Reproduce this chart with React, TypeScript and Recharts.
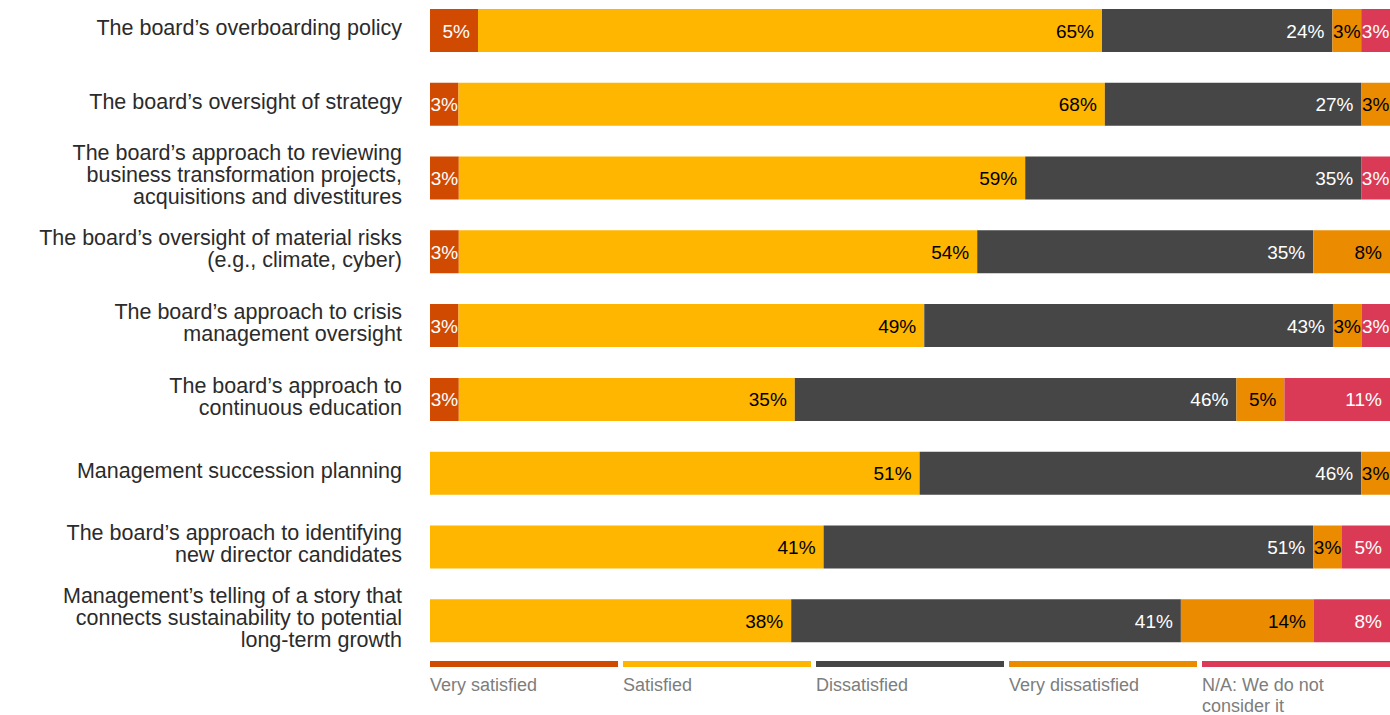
import { BarChart, Bar, XAxis, YAxis, LabelList } from "recharts"

const categories = [
  "The board’s overboarding policy",
  "The board’s oversight of strategy",
  "The board’s approach to reviewing\nbusiness transformation projects,\nacquisitions and divestitures",
  "The board’s oversight of material risks\n(e.g., climate, cyber)",
  "The board’s approach to crisis\nmanagement oversight",
  "The board’s approach to\ncontinuous education",
  "Management succession planning",
  "The board’s approach to identifying\nnew director candidates",
  "Management’s telling of a story that\nconnects sustainability to potential\nlong-term growth",
]

const verySatisfied = [5, 3, 3, 3, 3, 3, 0, 0, 0]
const satisfied = [65, 68, 59, 54, 49, 35, 51, 41, 38]
const dissatisfied = [24, 27, 35, 35, 43, 46, 46, 51, 41]
const veryDissatisfied = [3, 3, 0, 8, 3, 5, 3, 3, 14]
const notConsidered = [3, 0, 3, 0, 3, 11, 0, 5, 8]

const series = [
  { key: "vs", name: "Very satisfied", values: verySatisfied, color: "#D04A02", text: "#fff" },
  { key: "s", name: "Satisfied", values: satisfied, color: "#FFB600", text: "#000" },
  { key: "d", name: "Dissatisfied", values: dissatisfied, color: "#464646", text: "#fff" },
  { key: "vd", name: "Very dissatisfied", values: veryDissatisfied, color: "#EB8C00", text: "#000" },
  { key: "na", name: "N/A: We do not consider it", values: notConsidered, color: "#DB3A56", text: "#fff" },
]

const data = categories.map((name, i) => {
  const row: any = { name }
  series.forEach((s) => (row[s.key] = s.values[i]))
  return row
})

const FONT = "'Liberation Sans', Arial, Helvetica, sans-serif"

const CategoryTick = ({ x, y, payload }: any) => {
  const lines = String(payload.value).split("\n")
  const n = lines.length
  return (
    <text x={x} y={y} textAnchor="end" fill="#2b2b2b" fontSize={21.5} fontFamily={FONT}>
      {lines.map((line, i) => (
        <tspan key={i} x={x} y={y - 3 + (i - (n - 1) / 2) * 22 + 7}>
          {line}
        </tspan>
      ))}
    </text>
  )
}

const makeLabel = (color: string) => (props: any) => {
  const { x, y, width, height, value } = props
  const v = Number(value)
  if (!v || !width) return null
  const textW = String(v).length * 10.6 + 16.9
  const fits = width >= textW + 12
  const tx = fits ? x + width - 8 : x + width / 2
  return (
    <text
      x={tx}
      y={y + height / 2 + 7}
      textAnchor={fits ? "end" : "middle"}
      fill={color}
      fontSize={19}
      fontFamily={FONT}
    >
      {v}%
    </text>
  )
}

export default function App() {
  return (
    <div style={{ position: "absolute", left: 0, top: 0, width: 1390, height: 715, overflow: "hidden", background: "#fff" }}>
      <div style={{ position: "absolute", left: 0, top: -6 }}>
        <BarChart
          width={1390}
          height={664}
          data={data}
          layout="vertical"
          stackOffset="expand"
          margin={{ top: 0, right: 0, bottom: 0, left: 0 }}
        >
          <XAxis type="number" hide domain={[0, 1]} />
          <YAxis
            type="category"
            dataKey="name"
            width={430}
            axisLine={false}
            tickLine={false}
            tickSize={0}
            tickMargin={28}
            interval={0}
            tick={<CategoryTick />}
          />
          {series.map((s) => (
            <Bar key={s.key} dataKey={s.key} stackId="a" fill={s.color} barSize={43} isAnimationActive={false}>
              <LabelList dataKey={s.key} content={makeLabel(s.text)} />
            </Bar>
          ))}
        </BarChart>
      </div>
      <div style={{ position: "absolute", left: 430, top: 661, display: "flex", gap: 5, fontFamily: FONT }}>
        {series.map((s) => (
          <div key={s.key} style={{ width: 188 }}>
            <div style={{ height: 6, background: s.color }} />
            <div style={{ marginTop: 8, fontSize: 18, lineHeight: "21px", color: "#7d7d7d" }}>{s.name}</div>
          </div>
        ))}
      </div>
    </div>
  )
}
